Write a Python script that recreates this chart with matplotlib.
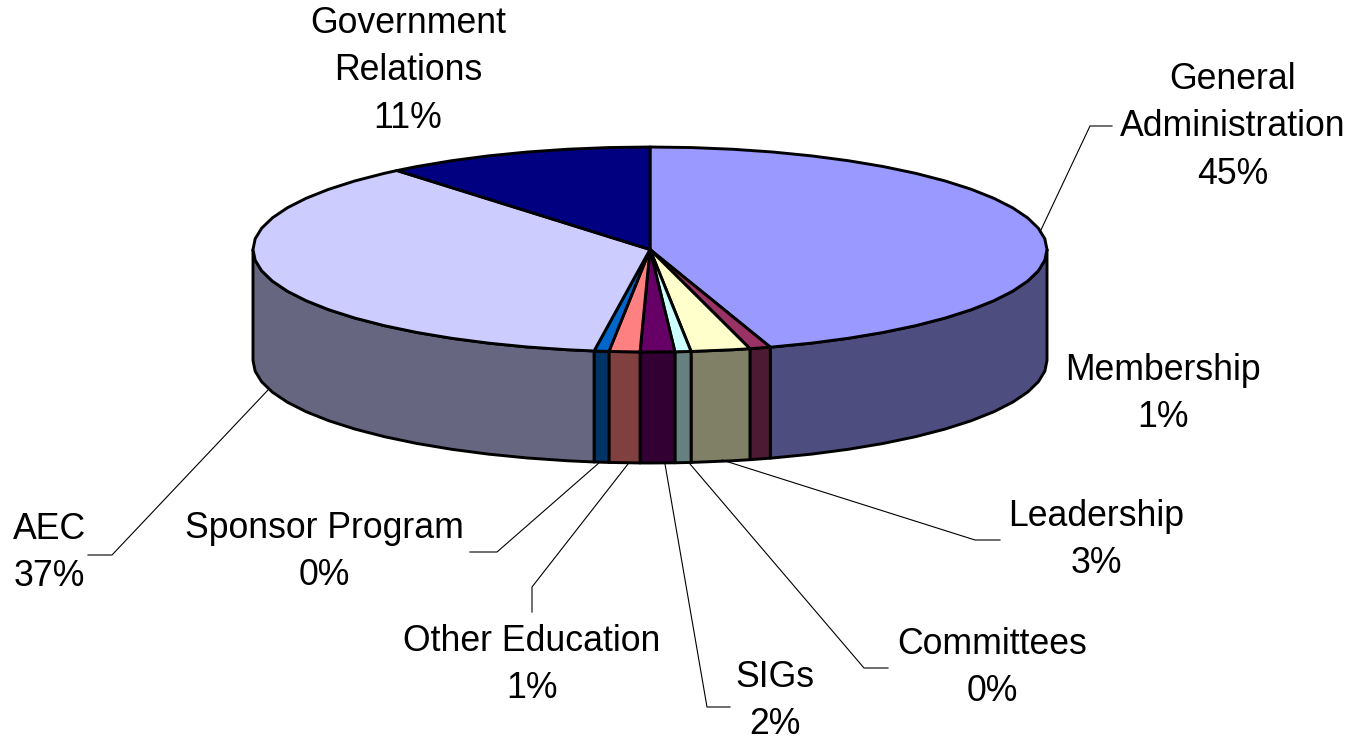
import numpy as np
import matplotlib
matplotlib.use("Agg")
import matplotlib.pyplot as plt

plt.rcParams['font.family'] = ['Liberation Sans', 'DejaVu Sans']

# clockwise from 12 o'clock
categories = ['General\nAdministration', 'Membership', 'Leadership', 'Committees', 'SIGs',
              'Other Education', 'Sponsor Program', 'AEC', 'Government\nRelations']
shares = [45.1, 0.85, 2.4, 0.65, 1.4, 1.25, 0.6, 36.75, 11.0]
pct_labels = ['45%', '1%', '3%', '0%', '2%', '1%', '0%', '37%', '11%']
top_colors = ['#9999FF', '#993366', '#FFFFCC', '#CCFFFF', '#660066',
              '#FF8080', '#0066CC', '#CCCCFF', '#000080']
side_colors = ['#4D4D80', '#4D1A33', '#808066', '#668080', '#330033',
               '#804040', '#003366', '#666680', '#000040']

# pie geometry in pixels
cx, cy = 650, 249.5
rx, ry = 397, 102.5
depth = 111

# label centre x, top of first line
label_pos = [(1233, 62), (1163, 353), (1096, 499), (992, 627), (775, 660),
             (532, 624), (324, 511), (49, 512), (408, 6)]
# leader lines
leaders = [[(1040, 232), (1090, 126), (1112, 126)],
           None,
           [(722, 460), (975, 540), (1000, 540)],
           [(690, 464), (864, 668), (888, 668)],
           [(665, 464), (707, 707), (730, 707)],
           [(628, 464), (532, 587), (532, 612)],
           [(600, 462), (497, 552), (470, 552)],
           [(268, 390), (112, 555), (88, 555)],
           None]


def ell(a):
    # a in degrees clockwise from the top
    t = np.radians(a)
    return cx + rx * np.sin(t), cy - ry * np.cos(t)


def arc(a0, a1, step=6):
    # the outline is made of short straight pieces, like the original
    inner = np.arange(np.ceil(a0 / step) * step, a1, step)
    inner = inner[inner > a0]
    return np.r_[a0, inner, a1]


fig = plt.figure(figsize=(13.57, 7.41), dpi=100)
ax = fig.add_axes([0, 0, 1, 1])
ax.set_xlim(0, 1357)
ax.set_ylim(741, 0)
ax.axis('off')

edges = np.cumsum([0] + shares) / sum(shares) * 360

# outer wall, only the front half shows
for i in range(len(shares)):
    a0 = max(edges[i], 90)
    a1 = min(edges[i + 1], 270)
    if a1 <= a0:
        continue
    x, y = ell(arc(a0, a1))
    xs = np.r_[x, x[::-1]]
    ys = np.r_[y, y[::-1] + depth]
    ax.fill(xs, ys, facecolor=side_colors[i], edgecolor='black', lw=2.1, joinstyle='round')

# top face
for i in range(len(shares)):
    x, y = ell(arc(edges[i], edges[i + 1]))
    ax.fill(np.r_[cx, x], np.r_[cy, y], facecolor=top_colors[i], edgecolor='black', lw=2.1,
            joinstyle='round')

for pts in leaders:
    if pts:
        ax.plot(*zip(*pts), color='black', lw=0.8)

for name, pct, (lx, ly) in zip(categories, pct_labels, label_pos):
    ax.text(lx, ly, name + '\n' + pct, ha='center', va='top', fontsize=25.7,
            linespacing=1.46, color='black')

fig.savefig('out.png', dpi=100)
